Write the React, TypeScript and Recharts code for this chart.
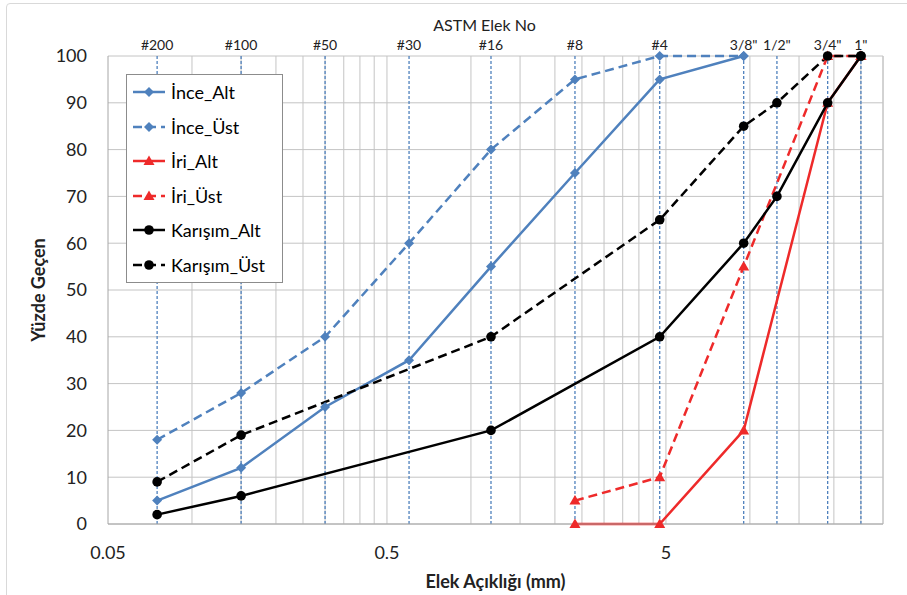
import React from "react";
import { LineChart, Line, XAxis, YAxis, CartesianGrid, ReferenceLine, Legend } from "recharts";

// sieve openings (mm) and their ASTM names for the top axis
const sieveSizes = [0.075, 0.15, 0.3, 0.6, 1.18, 2.36, 4.75, 9.5, 12.5, 19, 25];
const sieveLabels = ["#200", "#100", "#50", "#30", "#16", "#8", "#4", '3/8"', '1/2"', '3/4"', '1"'];

// log minor gridlines (Excel style, multiples of the decade start)
const minorGrid = [0.1, 0.15, 0.2, 0.25, 0.3, 0.35, 0.4, 0.45, 0.5, 1, 1.5, 2, 2.5, 3, 3.5, 4, 4.5, 5, 10, 15, 20, 25, 30];
const xTicks = [0.05, 0.5, 5];
const yTicks = [0, 10, 20, 30, 40, 50, 60, 70, 80, 90, 100];

const inceSizes = [0.075, 0.15, 0.3, 0.6, 1.18, 2.36, 4.75, 9.5];
const inceAlt = [5, 12, 25, 35, 55, 75, 95, 100];
const inceUst = [18, 28, 40, 60, 80, 95, 100, 100];

const iriSizes = [2.36, 4.75, 9.5, 19, 25];
const iriAlt = [0, 0, 20, 90, 100];
const iriUst = [5, 10, 55, 100, 100];

const karisimSizes = [0.075, 0.15, 1.18, 4.75, 9.5, 12.5, 19, 25];
const karisimAlt = [2, 6, 20, 40, 60, 70, 90, 100];
const karisimUst = [9, 19, 40, 65, 85, 90, 100, 100];

const FONT = "Lato, 'Open Sans', sans-serif";
const BLUE = "#4F81BD";
const RED = "#EE2A2A";
const BLACK = "#000000";
const GRID = "#C4C4C4";
const DASH = "9 5";

type Marker = "diamond" | "triangle" | "circle";

const toPoints = (xs: number[], ys: number[]) => xs.map((x, i) => ({ x, y: ys[i] }));

const series = [
  { name: "İnce_Alt", data: toPoints(inceSizes, inceAlt), color: BLUE, dashed: false, marker: "diamond" as Marker },
  { name: "İnce_Üst", data: toPoints(inceSizes, inceUst), color: BLUE, dashed: true, marker: "diamond" as Marker },
  { name: "İri_Alt", data: toPoints(iriSizes, iriAlt), color: RED, dashed: false, marker: "triangle" as Marker },
  { name: "İri_Üst", data: toPoints(iriSizes, iriUst), color: RED, dashed: true, marker: "triangle" as Marker },
  { name: "Karışım_Alt", data: toPoints(karisimSizes, karisimAlt), color: BLACK, dashed: false, marker: "circle" as Marker },
  { name: "Karışım_Üst", data: toPoints(karisimSizes, karisimUst), color: BLACK, dashed: true, marker: "circle" as Marker },
];

function markerShape(kind: Marker, cx: number, cy: number, color: string, key?: string) {
  if (kind === "diamond") {
    return <polygon key={key} points={`${cx},${cy - 5} ${cx + 5},${cy} ${cx},${cy + 5} ${cx - 5},${cy}`} fill={color} />;
  }
  if (kind === "triangle") {
    return <polygon key={key} points={`${cx},${cy - 5.5} ${cx + 5.5},${cy + 4} ${cx - 5.5},${cy + 4}`} fill={color} />;
  }
  return <circle key={key} cx={cx} cy={cy} r={4.8} fill={color} />;
}

function LegendBox() {
  return (
    <div
      style={{
        width: 155,
        border: "1px solid #8C8C8C",
        background: "#fff",
        fontFamily: FONT,
        fontSize: 18,
        color: "#000",
      }}
    >
      {series.map((s) => (
        <div key={s.name} style={{ display: "flex", alignItems: "center", height: 34.5 }}>
          <svg width={44} height={20} style={{ flex: "none" }}>
            <line x1={6} x2={38} y1={10} y2={10} stroke={s.color} strokeWidth={2.5} strokeDasharray={s.dashed ? DASH : undefined} />
            {markerShape(s.marker, 22, 10, s.color)}
          </svg>
          <span style={{ whiteSpace: "nowrap" }}>{s.name}</span>
        </div>
      ))}
    </div>
  );
}

export default function App() {
  return (
    <div style={{ position: "fixed", left: 0, top: 0, width: 907, height: 595, overflow: "hidden", background: "#fff" }}>
      <div style={{ position: "absolute", left: 6, top: 3, width: 960, height: 650, border: "1px solid #D9D9D9", borderRadius: 4 }} />
      <LineChart width={907} height={595} margin={{ top: 8, right: 24, bottom: 3, left: 0 }}>
        <CartesianGrid horizontal vertical={false} stroke={GRID} />
        {minorGrid.map((v) => (
          <ReferenceLine key={`g${v}`} x={v} stroke={GRID} strokeWidth={1} />
        ))}
        {sieveSizes.map((v, i) => (
          <ReferenceLine
            key={`s${v}`}
            x={v}
            stroke={BLUE}
            strokeWidth={1.3}
            strokeDasharray="3 2"
            label={{ value: sieveLabels[i], position: "top", offset: 6, fill: "#222", fontSize: 14, fontFamily: FONT }}
          />
        ))}
        <XAxis
          type="number"
          scale="log"
          dataKey="x"
          domain={[0.05, 30]}
          allowDataOverflow
          ticks={xTicks}
          tickFormatter={(v: number) => String(v)}
          height={68}
          tickLine={false}
          tickSize={0}
          tickMargin={22}
          stroke="#A6A6A6"
          tick={{ fill: "#222", fontSize: 18, fontFamily: FONT }}
          label={{
            content: (p: any) => {
              const vb = p.viewBox;
              return (
                <text x={vb.x + vb.width / 2} y={vb.y + 64} textAnchor="middle" fontFamily={FONT} fontWeight={700} fontSize={18} fill="#222">
                  Elek Açıklığı (mm)
                </text>
              );
            },
          }}
        />
        <XAxis
          xAxisId="top"
          orientation="top"
          type="number"
          scale="log"
          domain={[0.05, 30]}
          allowDataOverflow
          tick={false}
          height={48}
          axisLine={false}
          tickLine={false}
          label={{
            content: (p: any) => {
              const vb = p.viewBox;
              return (
                <text x={vb.x + vb.width / 2 - 11} y={vb.y + 23} textAnchor="middle" fontFamily={FONT} fontSize={16} fill="#222">
                  ASTM Elek No
                </text>
              );
            },
          }}
        />
        <YAxis
          type="number"
          domain={[0, 100]}
          ticks={yTicks}
          interval={0}
          width={108}
          tickLine={false}
          tickSize={0}
          tickMargin={21}
          stroke="#A6A6A6"
          tick={{ fill: "#222", fontSize: 18, fontFamily: FONT }}
          label={{
            content: (p: any) => {
              const vb = p.viewBox;
              const cx = vb.x + 38;
              const cy = vb.y + vb.height / 2;
              return (
                <text x={cx} y={cy} transform={`rotate(-90, ${cx}, ${cy})`} textAnchor="middle" dominantBaseline="central" fontFamily={FONT} fontWeight={700} fontSize={18} fill="#222">
                  Yüzde Geçen
                </text>
              );
            },
          }}
        />
        <ReferenceLine x={30} stroke={GRID} />
        {series.map((s) => (
          <Line
            key={s.name}
            data={s.data}
            dataKey="y"
            name={s.name}
            type="linear"
            stroke={s.color}
            strokeWidth={2.5}
            strokeDasharray={s.dashed ? DASH : undefined}
            isAnimationActive={false}
            activeDot={false}
            dot={(p: any) => markerShape(s.marker, p.cx, p.cy, s.color, `${s.name}-${p.index}`)}
          />
        ))}
        <Legend
          layout="horizontal"
          verticalAlign="middle"
          align="center"
          wrapperStyle={{ left: 126, top: 74, width: 157 }}
          content={() => <LegendBox />}
        />
      </LineChart>
    </div>
  );
}
